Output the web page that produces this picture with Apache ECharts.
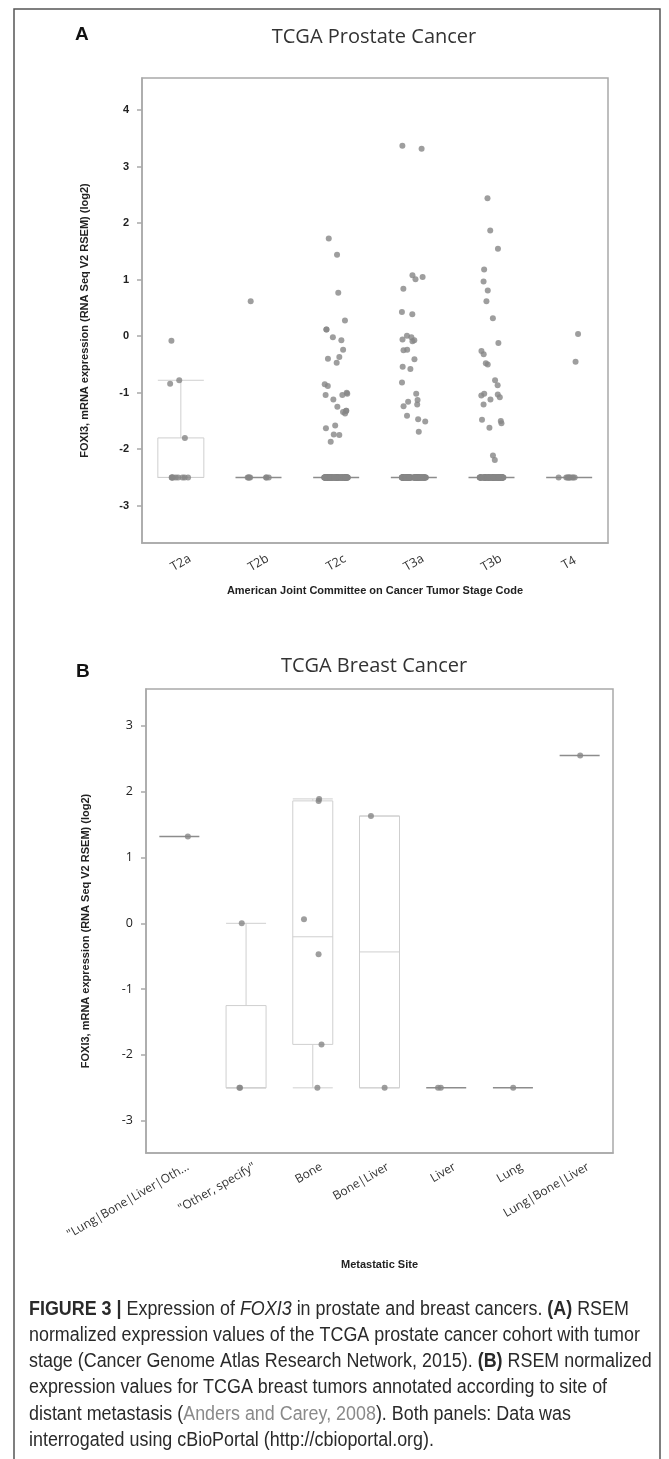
<!DOCTYPE html>
<html>
<head>
<meta charset="utf-8">
<title>FOXI3 expression in prostate and breast cancers</title>
<script src="https://cdn.jsdelivr.net/npm/echarts@6/dist/echarts.min.js"></script>
<style>
  html, body { margin: 0; padding: 0; background: #fff; }
  #chart { width: 669px; height: 1459px; }
</style>
</head>
<body>
<div id="chart"></div>
<script>
// ---------- Panel A : TCGA prostate cancer by tumour stage ----------
var stagesA = ['T2a', 'T2b', 'T2c', 'T3a', 'T3b', 'T4'];
// samples above the floor
var expressedA = [
  [-0.08, -0.78, -0.84, -1.80],
  [0.62],
  [1.73, 1.44, 0.77, 0.28, 0.12, 0.12, -0.02, -0.07, -0.24, -0.40, -0.37, -0.47,
   -0.88, -0.85, -1.04, -1.04, -1.00, -1.02, -1.12, -1.32, -1.37, -1.25, -1.32,
   -1.34, -1.63, -1.75, -1.58, -1.74, -1.87],
  [3.32, 3.37, 1.08, 1.05, 1.01, 0.84, 0.43, 0.39, 0.01, -0.07, -0.06, -0.09,
   -0.02, -0.24, -0.25, -0.41, -0.54, -0.58, -0.82, -1.02, -1.13, -1.16, -1.21,
   -1.24, -1.41, -1.51, -1.47, -1.69],
  [2.44, 1.87, 1.55, 1.18, 0.97, 0.81, 0.62, 0.32, -0.12, -0.26, -0.32, -0.48,
   -0.50, -0.78, -0.87, -1.03, -1.05, -1.12, -1.02, -1.08, -1.21, -1.48, -1.50,
   -1.54, -1.62, -2.11, -2.19],
  [0.04, -0.45]
];
// samples sitting on the floor value (no expression)
var floorValue = -2.5;
var floorCountA = [9, 7, 100, 100, 90, 9];
var yTicksA = [-3, -2, -1, 0, 1, 2, 3, 4];

// ---------- Panel B : TCGA breast cancer by metastatic site ----------
var sitesB = ['"Lung|Bone|Liver|Oth...', '"Other, specify"', 'Bone', 'Bone|Liver',
              'Liver', 'Lung', 'Lung|Bone|Liver'];
var expressedB = [
  [1.32],
  [0.0],
  [1.86, 1.89, 0.06, -0.47, -1.84],
  [1.63],
  [],
  [],
  [2.55]
];
var floorCountB = [0, 2, 1, 1, 2, 1, 0];
var yTicksB = [-3, -2, -1, 0, 1, 2, 3];

var captionLines = [
  '{b|FIGURE 3 |} Expression of {i|FOXI3} in prostate and breast cancers. {b|(A)} RSEM',
  'normalized expression values of the TCGA prostate cancer cohort with tumor',
  'stage (Cancer Genome Atlas Research Network, 2015). {b|(B)} RSEM normalized',
  'expression values for TCGA breast tumors annotated according to site of',
  'distant metastasis ({g|Anders and Carey, 2008}). Both panels: Data was',
  'interrogated using cBioPortal (http://cbioportal.org).'
];

function allSamples(expressed, counts) {
  return expressed.map(function (vals, i) {
    var out = vals.slice();
    for (var k = 0; k < counts[i]; k++) out.push(floorValue);
    return out;
  });
}

function median(s) {
  var n = s.length, m = Math.floor(n / 2);
  return n % 2 ? s[m] : (s[m - 1] + s[m]) / 2;
}

// Tukey hinges, whiskers to the last point inside 1.5 IQR
function boxStats(vals) {
  var s = vals.slice().sort(function (a, b) { return a - b; });
  var n = s.length, half = Math.ceil(n / 2);
  var q1 = median(s.slice(0, half));
  var q3 = median(s.slice(n - half));
  var iqr = q3 - q1;
  var inside = s.filter(function (v) {
    return v >= q1 - 1.5 * iqr - 1e-9 && v <= q3 + 1.5 * iqr + 1e-9;
  });
  return [inside[0], q1, median(s), q3, inside[inside.length - 1]];
}

function boxData(samples) {
  return samples.map(function (vals) {
    var st = boxStats(vals);
    var flat = st[1] === st[3];
    return {
      value: st,
      itemStyle: { borderColor: flat ? '#8c8c8c' : '#cfcfcf', borderWidth: flat ? 1.5 : 1 }
    };
  });
}

function pointData(samples) {
  var pts = [];
  samples.forEach(function (vals, i) {
    vals.forEach(function (v) { pts.push([i, v]); });
  });
  return pts;
}

var samplesA = allSamples(expressedA, floorCountA);
var samplesB = allSamples(expressedB, floorCountB);

var axisGrey = '#a9a9a9';
var dotGrey = '#868686';

function xAxisCfg(grid, cats, name, gap, label) {
  return {
    gridIndex: grid,
    type: 'category',
    data: cats,
    jitter: grid === 0 ? 24 : 18,
    jitterOverlap: true,
    name: name,
    nameLocation: 'middle',
    nameGap: gap,
    nameTextStyle: { fontFamily: 'Liberation Sans', fontWeight: 'bold', fontSize: 11, color: '#222' },
    axisLine: { onZero: false, lineStyle: { color: axisGrey, width: 1.5 } },
    axisTick: { alignWithLabel: true, length: 5, lineStyle: { color: axisGrey, width: 1.5 } },
    axisLabel: label,
    splitLine: { show: false }
  };
}

function yAxisCfg(grid, min, max, ticks, gap, labelStyle) {
  return {
    gridIndex: grid,
    type: 'value',
    min: min,
    max: max,
    name: 'FOXI3, mRNA expression (RNA Seq V2 RSEM) (log2)',
    nameLocation: 'middle',
    nameGap: gap,
    // the label sits a little below the middle of the plot
    nameTextStyle: { fontFamily: 'Liberation Sans', fontWeight: 'bold', fontSize: 11, color: '#222',
                     padding: [0, 20, 0, 0] },
    axisLine: { show: true, onZero: false, lineStyle: { color: axisGrey, width: 1.5 } },
    axisTick: { show: true, customValues: ticks, length: 5, lineStyle: { color: axisGrey, width: 1.5 } },
    axisLabel: Object.assign({ customValues: ticks, margin: 13, color: '#222' }, labelStyle),
    splitLine: { show: false }
  };
}

var captionFont = '"Liberation Sans", Arial, sans-serif';

var graphics = [
  { type: 'rect', z: -1, silent: true,
    shape: { x: 14, y: 9, width: 646, height: 1480 },
    style: { fill: 'transparent', stroke: '#555', lineWidth: 1.5 } },
  { type: 'text', x: 75, y: 35,
    style: { text: 'A', fontFamily: 'Liberation Sans', fontWeight: 'bold', fontSize: 19, fill: '#111',
             align: 'left', verticalAlign: 'middle' } },
  { type: 'text', x: 374, y: 37,
    style: { text: 'TCGA Prostate Cancer', fontFamily: 'Open Sans', fontSize: 20, fill: '#333',
             align: 'center', verticalAlign: 'middle' } },
  { type: 'text', x: 76, y: 672,
    style: { text: 'B', fontFamily: 'Liberation Sans', fontWeight: 'bold', fontSize: 19, fill: '#111',
             align: 'left', verticalAlign: 'middle' } },
  { type: 'text', x: 374, y: 666,
    style: { text: 'TCGA Breast Cancer', fontFamily: 'Open Sans', fontSize: 20, fill: '#333',
             align: 'center', verticalAlign: 'middle' } }
];

// narrow caption font is not installed, so squeeze a regular one
captionLines.forEach(function (line, i) {
  graphics.push({
    type: 'text', x: 29, y: 1309 + i * 26.3, scaleX: 0.895,
    style: {
      text: line,
      fontFamily: captionFont,
      fontSize: 20,
      fill: '#2a2a2a',
      align: 'left',
      verticalAlign: 'middle',
      rich: {
        b: { fontFamily: captionFont, fontSize: 20, fontWeight: 'bold', fill: '#2a2a2a' },
        i: { fontFamily: captionFont, fontSize: 20, fontStyle: 'italic', fill: '#2a2a2a' },
        g: { fontFamily: captionFont, fontSize: 20, fill: '#8a8a8a' }
      }
    }
  });
});

var myChart = echarts.init(document.getElementById('chart'), null, { renderer: 'canvas' });

var option = {
  backgroundColor: '#fff',
  animation: false,
  graphic: graphics,
  grid: [
    { left: 142, top: 78, width: 466, height: 465, show: true, borderColor: axisGrey, borderWidth: 1.5 },
    { left: 146, top: 689, width: 467, height: 464, show: true, borderColor: axisGrey, borderWidth: 1.5 }
  ],
  xAxis: [
    xAxisCfg(0, stagesA, 'American Joint Committee on Cancer Tumor Stage Code', 42, {
      interval: 0, rotate: 30, align: 'center', verticalAlign: 'middle', margin: 20,
      fontFamily: 'Open Sans', fontSize: 12.5, color: '#333'
    }),
    xAxisCfg(1, sitesB, 'Metastatic Site', 106, {
      interval: 0, rotate: 30, margin: 18, padding: [0, -10, 0, 0],
      fontFamily: 'Open Sans', fontSize: 12, color: '#333'
    })
  ],
  yAxis: [
    yAxisCfg(0, -3.66, 4.57, yTicksA, 52, { fontFamily: 'Liberation Sans', fontWeight: 'bold', fontSize: 11 }),
    yAxisCfg(1, -3.49, 3.56, yTicksB, 55, { fontFamily: 'Open Sans', fontSize: 12.5 })
  ],
  series: [
    {
      type: 'boxplot', xAxisIndex: 0, yAxisIndex: 0, silent: true,
      boxWidth: [46, 46],
      itemStyle: { color: 'transparent', borderColor: '#cfcfcf', borderWidth: 1 },
      data: boxData(samplesA)
    },
    {
      type: 'scatter', xAxisIndex: 0, yAxisIndex: 0, silent: true,
      symbolSize: 6, itemStyle: { color: dotGrey },
      data: pointData(samplesA)
    },
    {
      type: 'boxplot', xAxisIndex: 1, yAxisIndex: 1, silent: true,
      boxWidth: [40, 40],
      itemStyle: { color: 'transparent', borderColor: '#cfcfcf', borderWidth: 1 },
      data: boxData(samplesB)
    },
    {
      type: 'scatter', xAxisIndex: 1, yAxisIndex: 1, silent: true,
      symbolSize: 6, itemStyle: { color: dotGrey },
      data: pointData(samplesB)
    }
  ]
};

myChart.setOption(option);
window.addEventListener('resize', myChart.resize);
</script>
</body>
</html>
